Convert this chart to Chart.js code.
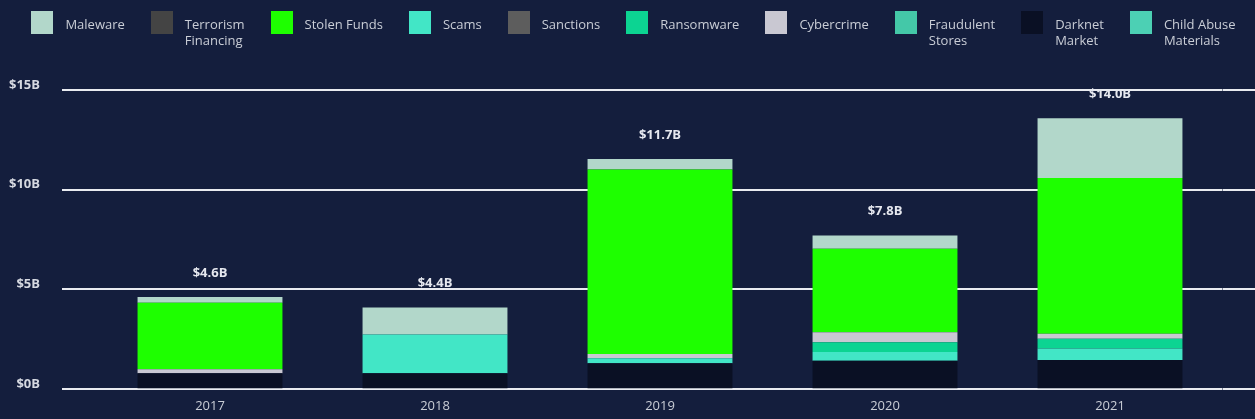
<!DOCTYPE html>
<html>
<head>
<meta charset="utf-8">
<script src="https://cdn.jsdelivr.net/npm/chart.js@4"></script>
<style>
html,body{margin:0;padding:0;background:#141e3d;overflow:hidden;}
#wrap{width:1255px;height:419px;position:relative;background:#141e3d;overflow:hidden;}
canvas{display:block;position:absolute;left:0;top:0;}
#legend{position:absolute;top:11px;left:6px;width:1255px;display:flex;justify-content:center;gap:26px;}
#legend .item{display:flex;align-items:flex-start;}
#legend .box{width:22px;height:23px;margin-right:12px;flex:none;}
#legend .txt{font:13px/15.5px "Open Sans",sans-serif;color:#c9cdd6;margin-top:6px;white-space:nowrap;}
</style>
</head>
<body>
<div id="wrap"><canvas id="c" width="1255" height="419" style="width:1255px;height:419px"></canvas><div id="legend"></div></div>
<script>
// ---- data (billions USD) ----
const years = ['2017', '2018', '2019', '2020', '2021'];
const malware          = [0.28, 1.35, 0.53, 0.66, 2.99];
const terrorismFinancing = [0, 0, 0, 0, 0];
const stolenFunds      = [3.34, 0, 9.24, 4.19, 7.81];
const scams            = [0, 1.94, 0.25, 0.44, 0.57];
const sanctions        = [0, 0, 0, 0, 0];
const ransomware       = [0, 0, 0, 0.49, 0.49];
const cybercrime       = [0.20, 0, 0.22, 0.49, 0.25];
const fraudulentStores = [0, 0, 0, 0, 0];
const darknetMarket    = [0.80, 0.80, 1.30, 1.43, 1.47];
const childAbuse       = [0, 0, 0, 0, 0];
const totals           = [4.6, 4.4, 11.7, 7.8, 14.0];
const yTickValues      = [0, 5, 10, 15];
const yTickLabels      = ['$0B', '$5B', '$10B', '$15B'];

const GRID = '#e9ebf0';
const TEXT = '#c9cdd6';

function ds(label, data, color, order) {
  return { label, data, backgroundColor: color, borderWidth: 0, order, stack: 's' };
}

const datasets = [
  ds('Maleware', malware, '#b2d7ca', 5),
  ds(['Terrorism', 'Financing'], terrorismFinancing, '#444444', 6),
  ds('Stolen Funds', stolenFunds, '#1eff00', 4),
  ds('Scams', scams, '#42e6c6', 1),
  ds('Sanctions', sanctions, '#5d5d5d', 7),
  ds('Ransomware', ransomware, '#0cd492', 2),
  ds('Cybercrime', cybercrime, '#c9c8d2', 3),
  ds(['Fraudulent', 'Stores'], fraudulentStores, '#44c8a8', 8),
  ds(['Darknet', 'Market'], darknetMarket, '#0a1024', 0),
  ds(['Child Abuse', 'Materials'], childAbuse, '#4cd0b4', 9)
];

const totalsPlugin = {
  id: 'totals',
  afterDatasetsDraw(chart) {
    const { ctx, scales: { x, y } } = chart;
    ctx.save();
    ctx.font = 'bold 13px "Open Sans"';
    ctx.fillStyle = '#e6e8ef';
    ctx.textAlign = 'center';
    ctx.textBaseline = 'middle';
    years.forEach((yr, i) => {
      let sum = 0;
      chart.data.datasets.forEach((d, di) => {
        if (chart.isDatasetVisible(di)) sum += d.data[i] || 0;
      });
      const px = x.getPixelForValue(i);
      const py = y.getPixelForValue(sum) - 24;
      ctx.fillText('$' + totals[i].toFixed(1) + 'B', px, py);
    });
    ctx.restore();
  }
};

Chart.defaults.font.family = '"Open Sans", sans-serif';

const chart = new Chart(document.getElementById('c'), {
  type: 'bar',
  data: { labels: years, datasets },
  plugins: [totalsPlugin],
  options: {
    responsive: false,
    maintainAspectRatio: false,
    devicePixelRatio: 1,
    animation: false,
    layout: { padding: { top: 90, left: 0, right: 0, bottom: 0 } },
    datasets: { bar: { barPercentage: 0.644, categoryPercentage: 1.0 } },
    plugins: {
      tooltip: { enabled: false },
      legend: { display: false }
    },
    scales: {
      x: {
        stacked: true,
        afterFit(scale) { scale.height = 26; },
        grid: { display: false, drawTicks: false },
        border: { display: false },
        ticks: { color: TEXT, padding: 9, font: { size: 13 } }
      },
      y: {
        stacked: true,
        position: 'left',
        min: 0,
        max: 15,
        afterBuildTicks(scale) { scale.ticks = yTickValues.map(v => ({ value: v })); },
        afterFit(scale) { scale.width = 97.5; },
        grid: { color: GRID, lineWidth: 2, drawTicks: true, tickLength: 35.5, tickColor: GRID },
        border: { display: false },
        ticks: {
          padding: 22,
          labelOffset: -5,
          color: '#d6d9e1',
          font: { size: 13, weight: 'bold' },
          callback: (v) => yTickLabels[yTickValues.indexOf(v)]
        }
      },
      y2: {
        position: 'right',
        min: 0,
        max: 15,
        afterBuildTicks(scale) { scale.ticks = yTickValues.map(v => ({ value: v })); },
        afterFit(scale) { scale.width = 32.5; },
        grid: { color: GRID, lineWidth: 2, drawOnChartArea: false, drawTicks: true, tickLength: 32.5, tickColor: GRID },
        border: { display: false },
        ticks: { display: false }
      }
    }
  }
});

// HTML legend built from the chart's own legend items
(function buildLegend() {
  const items = Chart.defaults.plugins.legend.labels.generateLabels(chart)
    .sort((a, b) => a.datasetIndex - b.datasetIndex);
  const host = document.getElementById('legend');
  items.forEach(it => {
    const el = document.createElement('div');
    el.className = 'item';
    const box = document.createElement('span');
    box.className = 'box';
    box.style.background = it.fillStyle;
    const txt = document.createElement('span');
    txt.className = 'txt';
    const lines = Array.isArray(it.text) ? it.text : [it.text];
    lines.forEach((l, i) => {
      if (i) txt.appendChild(document.createElement('br'));
      txt.appendChild(document.createTextNode(l));
    });
    el.appendChild(box);
    el.appendChild(txt);
    host.appendChild(el);
  });
})();
</script>
</body>
</html>
